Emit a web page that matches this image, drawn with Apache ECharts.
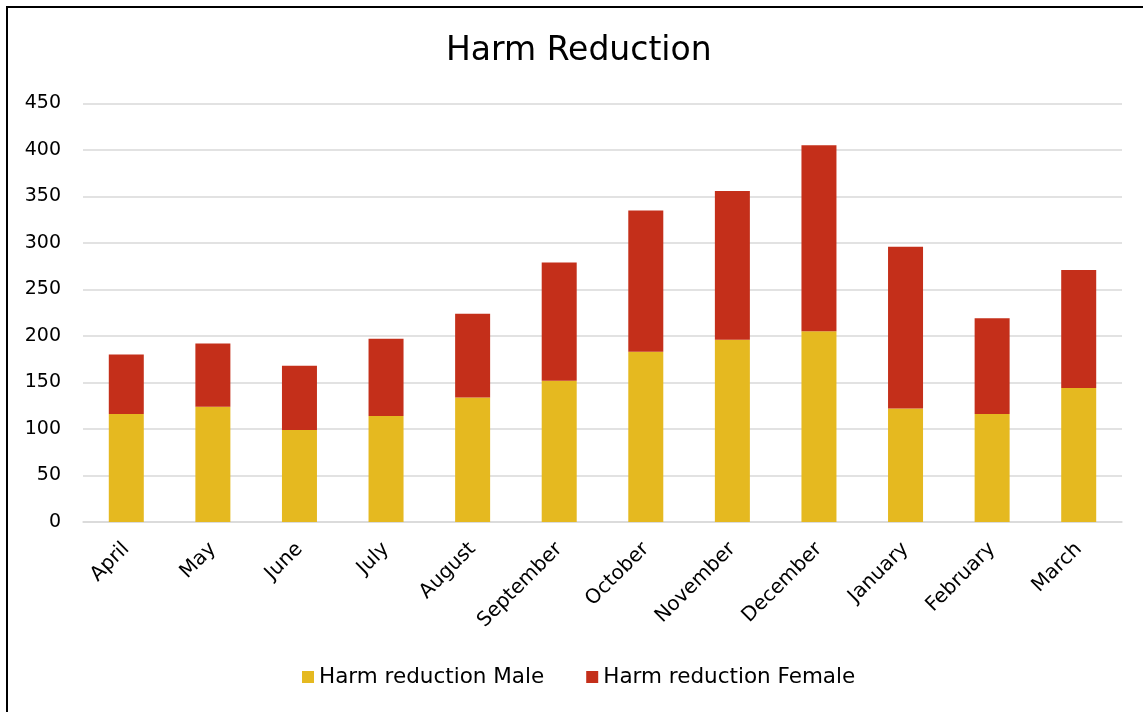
<!DOCTYPE html>
<html>
<head>
<meta charset="utf-8">
<script src="https://cdn.jsdelivr.net/npm/echarts@6/dist/echarts.min.js"></script>
<style>
html,body{margin:0;padding:0;background:#fff;}
#chart{width:1143px;height:712px;}
</style>
</head>
<body>
<div id="chart"></div>
<script>
var categories = ['April','May','June','July','August','September','October','November','December','January','February','March'];
var maleValues = [116,124,99,114,134,152,183,196,205,122,116,144];
var femaleValues = [64,68,69,83,90,127,152,160,200,174,103,127];
var yTicks = [0,50,100,150,200,250,300,350,400,450];

var font = 'DejaVu Sans';
var chart = echarts.init(document.getElementById('chart'));
chart.setOption({
  animation: false,
  backgroundColor: '#fff',
  textStyle: {fontFamily: font, color: '#000'},
  graphic: [{
    type: 'rect',
    shape: {x: 7, y: 7, width: 1160, height: 730},
    style: {fill: 'none', stroke: '#000', lineWidth: 2},
    silent: true
  }],
  title: {
    text: 'Harm Reduction',
    left: 441,
    top: 30,
    textStyle: {fontFamily: font, fontSize: 33, fontWeight: 'normal', color: '#000'}
  },
  legend: {
    bottom: 19,
    left: 297,
    itemWidth: 12,
    itemHeight: 12,
    itemGap: 42,
    icon: 'rect',
    textStyle: {fontFamily: font, fontSize: 21.5, color: '#000'},
    data: ['Harm reduction Male', 'Harm reduction Female']
  },
  grid: {left: 83, right: 21, top: 103.5, bottom: 190, containLabel: false},
  xAxis: {
    type: 'category',
    data: categories,
    axisLine: {lineStyle: {color: '#d9d9d9', width: 1.5}},
    axisTick: {show: false},
    axisLabel: {rotate: 45, fontFamily: font, fontSize: 20, color: '#000', margin: 24, interval: 0}
  },
  yAxis: {
    type: 'value',
    min: yTicks[0],
    max: yTicks[yTicks.length - 1],
    interval: 50,
    axisLine: {show: false},
    axisTick: {show: false},
    axisLabel: {fontFamily: font, fontSize: 19, color: '#000', margin: 22},
    splitLine: {lineStyle: {color: '#d9d9d9', width: 1.5}}
  },
  series: [
    {name: 'Harm reduction Male', type: 'bar', stack: 'total', data: maleValues, barWidth: 35, itemStyle: {color: '#E5B920'}},
    {name: 'Harm reduction Female', type: 'bar', stack: 'total', data: femaleValues, barWidth: 35, itemStyle: {color: '#C42F1A'}}
  ]
});
</script>
</body>
</html>
